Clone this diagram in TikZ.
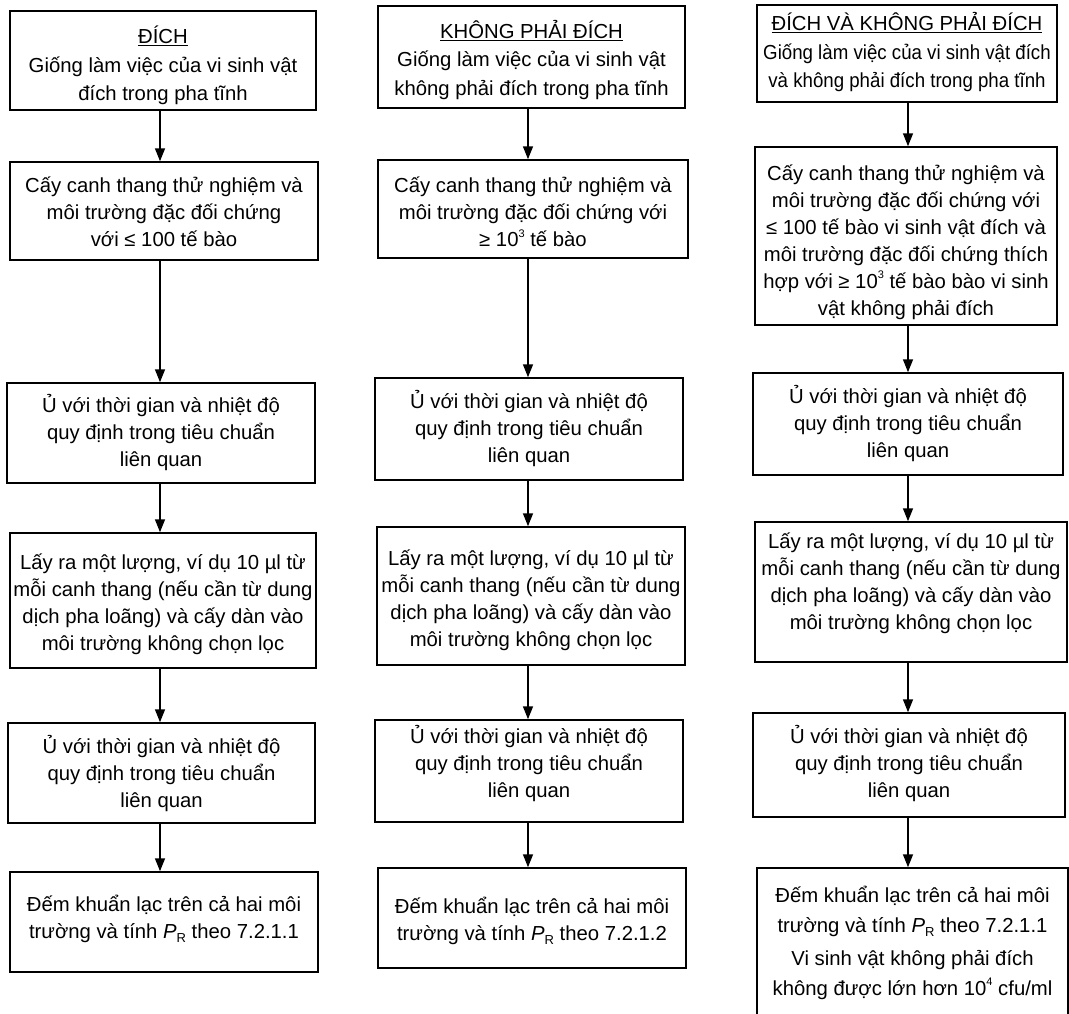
\documentclass[tikz,border=0pt]{standalone}
\usepackage{fontspec}
\usepackage{graphicx}
\setmainfont{Liberation Sans}
\usetikzlibrary{arrows.meta}
\newcommand{\PR}{\textit{P}\raisebox{-0.35ex}{\fontsize{13}{13}\selectfont R}}
\newcommand{\supx}[1]{\raisebox{0.9ex}{\fontsize{11}{11}\selectfont #1}}
\newcommand{\cnd}[1]{\scalebox{0.92}[1]{#1}}
\tikzset{
  bx/.style={draw, line width=1.5pt, inner sep=0pt},
  tx/.style={inner sep=0pt, align=center, font=\fontsize{20.3}{27}\selectfont},
  hd/.style={tx, font=\fontsize{20.3}{28.5}\selectfont},
  arr/.style={line width=1.5pt, -{Triangle[length=13pt,width=10pt]}}
}
\begin{document}
\begin{tikzpicture}[x=1pt,y=-1pt]
\useasboundingbox (0,0) rectangle (1069,1013);
\clip (0,0) rectangle (1069,1013);
\fill[white] (0,0) rectangle (1069,1013);
\coordinate (a1) at (160,0);
\coordinate (a2) at (528,0);
\coordinate (a3) at (908,0);
% column 1
\node[bx, minimum width=306pt, minimum height=99pt,
  label={[hd,yshift=-5pt]center:{\underline{ĐÍCH}\\Giống làm việc của vi sinh vật\\đích trong pha tĩnh}}]
  (b11) at (163,60.5) {};
\node[bx, minimum width=308pt, minimum height=98pt,
  label={[tx,yshift=-1pt]center:{Cấy canh thang thử nghiệm và\\môi trường đặc đối chứng\\với ≤ 100 tế bào}}]
  (b12) at (164,211) {};
\node[bx, minimum width=308pt, minimum height=100pt,
  label={[tx]center:{Ủ với thời gian và nhiệt độ\\quy định trong tiêu chuẩn\\liên quan}}]
  (b13) at (161,433) {};
\node[bx, minimum width=306pt, minimum height=135pt,
  label={[tx,yshift=-4pt]center:{Lấy ra một lượng, ví dụ 10 µl từ\\mỗi canh thang (nếu cần từ dung\\dịch pha loãng) và cấy dàn vào\\môi trường không chọn lọc}}]
  (b14) at (163,600.5) {};
\node[bx, minimum width=307pt, minimum height=100pt,
  label={[tx]center:{Ủ với thời gian và nhiệt độ\\quy định trong tiêu chuẩn\\liên quan}}]
  (b15) at (161.5,773) {};
\node[bx, minimum width=308pt, minimum height=100pt,
  label={[tx,yshift=3pt]center:{Đếm khuẩn lạc trên cả hai môi\\trường và tính \PR{} theo 7.2.1.1}}]
  (b16) at (164,922) {};
% column 2
\node[bx, minimum width=307pt, minimum height=102pt,
  label={[hd,yshift=-3pt]center:{\underline{KHÔNG PHẢI ĐÍCH}\\Giống làm việc của vi sinh vật\\không phải đích trong pha tĩnh}}]
  (b21) at (531.5,57) {};
\node[bx, minimum width=310pt, minimum height=98pt,
  label={[tx,yshift=-3pt]center:{Cấy canh thang thử nghiệm và\\môi trường đặc đối chứng với\\≥ 10\supx{3} tế bào}}]
  (b22) at (533,209) {};
\node[bx, minimum width=308pt, minimum height=102pt,
  label={[tx]center:{Ủ với thời gian và nhiệt độ\\quy định trong tiêu chuẩn\\liên quan}}]
  (b23) at (529,429) {};
\node[bx, minimum width=308pt, minimum height=138pt,
  label={[tx,yshift=-4pt]center:{Lấy ra một lượng, ví dụ 10 µl từ\\mỗi canh thang (nếu cần từ dung\\dịch pha loãng) và cấy dàn vào\\môi trường không chọn lọc}}]
  (b24) at (531,596) {};
\node[bx, minimum width=308pt, minimum height=102pt,
  label={[tx,yshift=8pt]center:{Ủ với thời gian và nhiệt độ\\quy định trong tiêu chuẩn\\liên quan}}]
  (b25) at (529,771) {};
\node[bx, minimum width=308pt, minimum height=100pt,
  label={[tx,yshift=-3pt]center:{Đếm khuẩn lạc trên cả hai môi\\trường và tính \PR{} theo 7.2.1.2}}]
  (b26) at (532,918) {};
% column 3
\node[bx, minimum width=300pt, minimum height=97pt,
  label={[hd,yshift=1pt]center:{\underline{ĐÍCH VÀ KHÔNG PHẢI ĐÍCH}\\\cnd{Giống làm việc của vi sinh vật đích}\\\cnd{và không phải đích trong pha tĩnh}}}]
  (b31) at (907,53.5) {};
\node[bx, minimum width=302pt, minimum height=178pt,
  label={[tx,yshift=-6pt]center:{Cấy canh thang thử nghiệm và\\môi trường đặc đối chứng với\\≤ 100 tế bào vi sinh vật đích và\\môi trường đặc đối chứng thích\\hợp với ≥ 10\supx{3} tế bào bào vi sinh\\vật không phải đích}}]
  (b32) at (906,236) {};
\node[bx, minimum width=310pt, minimum height=102pt,
  label={[tx]center:{Ủ với thời gian và nhiệt độ\\quy định trong tiêu chuẩn\\liên quan}}]
  (b33) at (908,424) {};
\node[bx, minimum width=312pt, minimum height=140pt,
  label={[tx,yshift=9pt]center:{Lấy ra một lượng, ví dụ 10 µl từ\\mỗi canh thang (nếu cần từ dung\\dịch pha loãng) và cấy dàn vào\\môi trường không chọn lọc}}]
  (b34) at (911,592) {};
\node[bx, minimum width=312pt, minimum height=104pt,
  label={[tx,yshift=2pt]center:{Ủ với thời gian và nhiệt độ\\quy định trong tiêu chuẩn\\liên quan}}]
  (b35) at (909,765) {};
\node[bx, minimum width=311pt, minimum height=150pt,
  label={[tx,font=\fontsize{20.3}{29.5}\selectfont]center:{Đếm khuẩn lạc trên cả hai môi\\trường và tính \PR{} theo 7.2.1.1\\[4pt]Vi sinh vật không phải đích\\không được lớn hơn 10\supx{4} cfu/ml}}]
  (b36) at (912.5,943) {};
% arrows
\foreach \c in {1,2,3}{
  \foreach \i/\j in {1/2,2/3,3/4,4/5,5/6}{
    \draw[arr] (b\c\i.south -| a\c) -- (b\c\j.north -| a\c);
  }
}
\end{tikzpicture}
\end{document}
